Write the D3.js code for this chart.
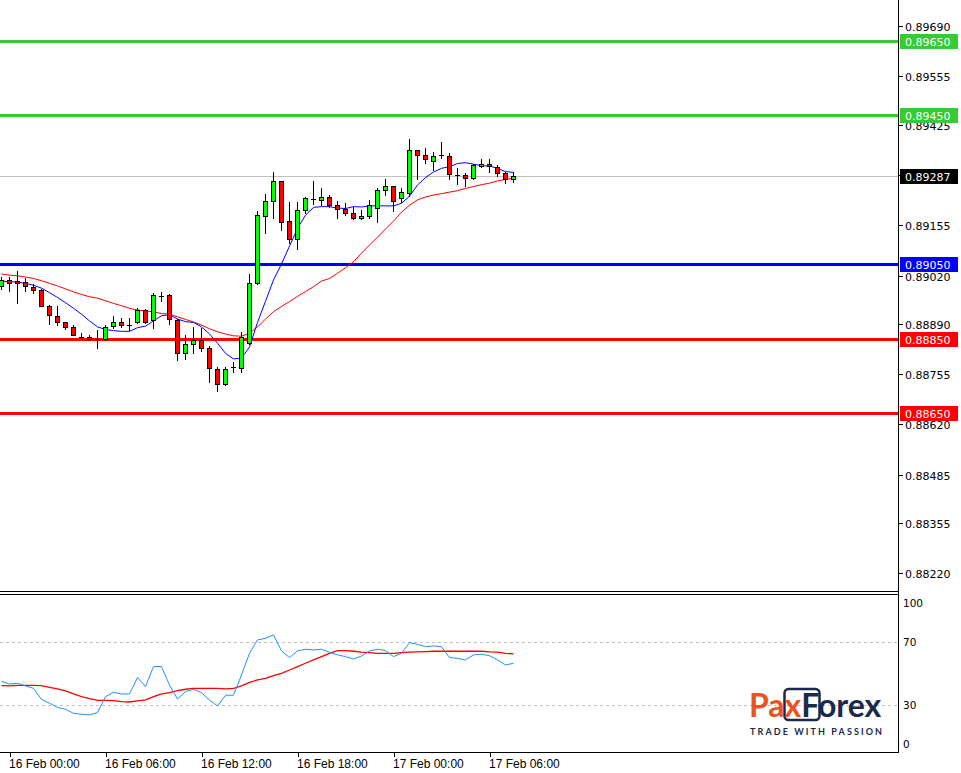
<!DOCTYPE html>
<html><head><meta charset="utf-8">
<script src="https://cdn.jsdelivr.net/npm/d3@7"></script>
<style>html,body{margin:0;padding:0;background:#fff;}svg{display:block}</style>
</head><body><svg id="c" width="961" height="773"></svg>
<script>
// ---------- DATA ----------
const startTime = "2021-02-15T23:30:00"; // first 30-minute candle
const openP = [0.88992,0.89009,0.89004,0.89002,0.88990,0.88982,0.88937,0.88912,0.88894,0.88883,0.88855,0.88856,0.88849,0.88849,0.88884,0.88896,0.88888,0.88895,0.88927,0.88900,0.88965,0.88968,0.88900,0.88812,0.88836,0.88847,0.88824,0.88770,0.88729,0.88774,0.88772,0.88840,0.89000,0.89181,0.89219,0.89274,0.89166,0.89117,0.89195,0.89225,0.89223,0.89230,0.89209,0.89198,0.89189,0.89174,0.89180,0.89200,0.89251,0.89260,0.89228,0.89242,0.89357,0.89345,0.89327,0.89344,0.89342,0.89290,0.89290,0.89281,0.89314,0.89319,0.89311,0.89294,0.89279];
const highP = [0.89015,0.89016,0.89032,0.89013,0.88997,0.88984,0.88941,0.88937,0.88896,0.88886,0.88866,0.88859,0.88874,0.88886,0.88911,0.88906,0.88906,0.88934,0.88931,0.88972,0.88977,0.88969,0.88904,0.88860,0.88882,0.88878,0.88831,0.88774,0.88774,0.88789,0.88868,0.89024,0.89192,0.89240,0.89298,0.89274,0.89218,0.89218,0.89231,0.89274,0.89254,0.89236,0.89220,0.89214,0.89205,0.89196,0.89223,0.89254,0.89278,0.89260,0.89254,0.89387,0.89357,0.89362,0.89352,0.89379,0.89348,0.89308,0.89294,0.89319,0.89332,0.89332,0.89317,0.89297,0.89297];
const lowP = [0.88985,0.88978,0.88945,0.88978,0.88972,0.88937,0.88891,0.88888,0.88875,0.88859,0.88849,0.88848,0.88824,0.88847,0.88880,0.88882,0.88874,0.88892,0.88892,0.88878,0.88951,0.88890,0.88793,0.88797,0.88813,0.88816,0.88735,0.88710,0.88727,0.88761,0.88762,0.88837,0.88997,0.89135,0.89175,0.89142,0.89108,0.89090,0.89188,0.89213,0.89209,0.89205,0.89174,0.89182,0.89172,0.89172,0.89174,0.89164,0.89236,0.89193,0.89218,0.89233,0.89278,0.89321,0.89303,0.89335,0.89278,0.89265,0.89261,0.89278,0.89312,0.89299,0.89287,0.89268,0.89270];
const closeP = [0.89008,0.89000,0.89001,0.88992,0.88982,0.88938,0.88914,0.88895,0.88882,0.88860,0.88854,0.88849,0.88848,0.88883,0.88896,0.88888,0.88887,0.88927,0.88896,0.88968,0.88963,0.88904,0.88812,0.88837,0.88847,0.88825,0.88772,0.88729,0.88770,0.88773,0.88855,0.89001,0.89182,0.89220,0.89274,0.89165,0.89117,0.89196,0.89227,0.89223,0.89230,0.89209,0.89198,0.89189,0.89174,0.89180,0.89209,0.89251,0.89260,0.89220,0.89243,0.89357,0.89345,0.89332,0.89342,0.89342,0.89292,0.89288,0.89281,0.89317,0.89319,0.89314,0.89296,0.89278,0.89287];
const maFast = [0.89004,0.89004,0.89002,0.88999,0.88994,0.88986,0.88974,0.88961,0.88947,0.88932,0.88916,0.88898,0.88882,0.88875,0.88872,0.88870,0.88870,0.88880,0.88884,0.88898,0.88912,0.88915,0.88903,0.88896,0.88894,0.88882,0.88863,0.88838,0.88811,0.88796,0.88798,0.88828,0.88894,0.88951,0.89008,0.89051,0.89099,0.89146,0.89182,0.89203,0.89205,0.89205,0.89201,0.89200,0.89205,0.89204,0.89207,0.89207,0.89207,0.89207,0.89214,0.89233,0.89263,0.89283,0.89298,0.89308,0.89312,0.89321,0.89323,0.89319,0.89315,0.89314,0.89308,0.89299,0.89297];
const maSlow = [0.89024,0.89021,0.89019,0.89016,0.89012,0.89006,0.88999,0.88992,0.88984,0.88976,0.88969,0.88963,0.88959,0.88952,0.88945,0.88939,0.88932,0.88927,0.88925,0.88922,0.88918,0.88916,0.88909,0.88902,0.88895,0.88887,0.88877,0.88869,0.88863,0.88858,0.88857,0.88865,0.88882,0.88903,0.88923,0.88937,0.88950,0.88964,0.88977,0.88990,0.89005,0.89012,0.89026,0.89041,0.89057,0.89080,0.89102,0.89123,0.89145,0.89166,0.89190,0.89209,0.89223,0.89231,0.89236,0.89240,0.89244,0.89248,0.89254,0.89259,0.89264,0.89268,0.89274,0.89278,0.89281];
const oscMain = [45.2,43.5,44,42.3,40.8,33.8,31.3,28.7,27.5,24.9,24.3,23.9,25.4,35.5,38.3,37.2,37.2,47.6,41.9,54.6,54.6,42.9,34,38.7,40.2,38,33.4,29.6,36.4,36.4,49.3,63,71.5,72.5,74.7,64.5,60.3,64.5,65.6,65.1,65.6,63.7,62,60.9,59.4,61.3,64.5,65.6,64.7,60.9,63,69.8,68.7,67.2,67.7,67.2,60.3,59.8,58.8,62,62.4,61.5,58.8,55.6,56.7];
const oscSignal = [42.5,42.3,42.7,42.7,42.7,42.5,41.4,40.4,39.1,37.2,35.5,34.2,33.2,33.2,33,32.3,32.1,32.8,33.4,35.5,37.2,38,39.3,40.2,40.8,40.8,40.8,40.8,40.4,40.8,42.3,44.6,46.1,47.1,48.8,50.3,52.4,54.6,56.7,58.8,60.9,63,64.7,64.7,64.3,63.7,63.4,63,63,63,63.4,63.7,63.9,64.1,64.3,64.3,64.3,64.3,64.3,64.3,64.3,63.9,63.7,63,62.6];
const priceTicks = [0.89690,0.89555,0.89425,0.89290,0.89155,0.89020,0.88890,0.88755,0.88620,0.88485,0.88355,0.88220];
const levelValues = [0.89650,0.89450,0.89050,0.88850,0.88650];
const levelKinds = ["resistance","resistance","pivot","support","support"];
const lastPrice = 0.89287;
const oscTicks = [100,70,30,0];
const oscLevels = [70,30];
const timeTicks = ["2021-02-16T00:00:00","2021-02-16T06:00:00","2021-02-16T12:00:00","2021-02-16T18:00:00","2021-02-17T00:00:00","2021-02-17T06:00:00"];

// ---------- SETUP ----------
const svg = d3.select("#c");
const n = openP.length;
const t0 = new Date(startTime);
const times = d3.range(n).map(i => new Date(t0.getTime() + i * 30 * 60000));
const axisX = 898.5;
const mainBottom = 591.5, oscTop = 594.5, oscBottom = 752.5;

const x = d3.scaleTime().domain([times[0], times[n-1]]).range([1.5, 513.5]);
const y = d3.scaleLinear().domain([0.881726, 0.89760]).range([591, 0]);
const y2 = d3.scaleLinear().domain([0, 100]).range([752.6, 595]);
const kindColor = {resistance:"#32CD32", pivot:"#0000FF", support:"#FF0000"};
const priceFmt = d3.format(".5f");
const tFmt = d3.timeFormat("%d %b %H:%M");

svg.append("rect").attr("width",961).attr("height",773).attr("fill","#fff");

svg.append("clipPath").attr("id","mainClip").append("rect").attr("x",0).attr("y",0).attr("width",axisX).attr("height",mainBottom);
svg.append("clipPath").attr("id","oscClip").append("rect").attr("x",0).attr("y",oscTop).attr("width",axisX).attr("height",oscBottom-oscTop);
const main = svg.append("g").attr("clip-path","url(#mainClip)");

// current price line
main.append("line").attr("x1",0).attr("x2",axisX).attr("y1",Math.round(y(lastPrice))+0.5).attr("y2",Math.round(y(lastPrice))+0.5)
  .attr("stroke","#C0C0C0").attr("stroke-width",1).attr("shape-rendering","crispEdges");

// level lines
levelValues.forEach((v,i) => {
  const yy = Math.round(y(v)) + 0.5;
  main.append("line").attr("x1",0).attr("x2",axisX).attr("y1",yy).attr("y2",yy)
    .attr("stroke",kindColor[levelKinds[i]]).attr("stroke-width",3).attr("shape-rendering","crispEdges");
});

// moving averages
const lineGen = (arr, sc) => d3.line().x((d,i)=>x(times[i])).y(d=>sc(d))(arr);
main.append("path").attr("d",lineGen(maSlow,y)).attr("fill","none").attr("stroke","#FF0000").attr("stroke-width",1);
main.append("path").attr("d",lineGen(maFast,y)).attr("fill","none").attr("stroke","#0000FF").attr("stroke-width",1);

// candles
const cg = main.append("g");
for (let i=0;i<n;i++){
  const cx = Math.round(x(times[i])-0.5)+0.5;
  const yh = Math.round(y(highP[i])), yl = Math.round(y(lowP[i]));
  cg.append("line").attr("x1",cx).attr("x2",cx).attr("y1",yh).attr("y2",yl+1)
    .attr("stroke","#000").attr("stroke-width",1).attr("shape-rendering","crispEdges");
  const yo = y(openP[i]), yc = y(closeP[i]);
  const top = Math.round(Math.min(yo,yc)), bot = Math.round(Math.max(yo,yc));
  if (bot - top < 2) {
    cg.append("line").attr("x1",cx-2.5).attr("x2",cx+2.5).attr("y1",top+0.5).attr("y2",top+0.5)
      .attr("stroke","#000").attr("stroke-width",1).attr("shape-rendering","crispEdges");
  } else {
    cg.append("rect").attr("x",cx-2).attr("y",top+0.5).attr("width",4).attr("height",bot-top)
      .attr("fill", closeP[i] >= openP[i] ? "#00FF00" : "#FF0000")
      .attr("stroke","#000").attr("stroke-width",1).attr("shape-rendering","crispEdges");
  }
}

// ---------- OSCILLATOR PANEL ----------
const osc = svg.append("g").attr("clip-path","url(#oscClip)");
oscLevels.forEach(v=>{
  const yy = Math.round(y2(v))+0.5;
  osc.append("line").attr("x1",0).attr("x2",axisX).attr("y1",yy).attr("y2",yy)
    .attr("stroke","#C0C0C0").attr("stroke-dasharray","3,3").attr("shape-rendering","crispEdges");
});
osc.append("path").attr("d",lineGen(oscSignal,y2)).attr("fill","none").attr("stroke","#FF0000").attr("stroke-width",1.3);
osc.append("path").attr("d",lineGen(oscMain,y2)).attr("fill","none").attr("stroke","#1E90FF").attr("stroke-width",1);

// ---------- FRAMES ----------
const frame = svg.append("g").attr("stroke","#000").attr("stroke-width",1).attr("shape-rendering","crispEdges");
frame.append("line").attr("x1",axisX).attr("x2",axisX).attr("y1",0).attr("y2",oscBottom);
frame.append("line").attr("x1",0).attr("x2",axisX).attr("y1",mainBottom).attr("y2",mainBottom);
frame.append("line").attr("x1",0).attr("x2",axisX).attr("y1",oscTop).attr("y2",oscTop);
frame.append("line").attr("x1",0).attr("x2",axisX).attr("y1",oscBottom).attr("y2",oscBottom);

// ---------- PRICE AXIS ----------
const pa = svg.append("g");
priceTicks.forEach(v=>{
  const yy = Math.round(y(v))+0.5;
  pa.append("line").attr("x1",axisX).attr("x2",axisX+4).attr("y1",yy).attr("y2",yy).attr("stroke","#000").attr("shape-rendering","crispEdges");
  pa.append("text").attr("x",905).attr("y",yy+4).text(priceFmt(v))
    .attr("font-family","DejaVu Sans").attr("font-size",11).attr("fill","#000");
});
function priceBox(v,color){
  const yy = Math.round(y(v));
  pa.append("rect").attr("x",900).attr("y",yy-7).attr("width",58).attr("height",15).attr("fill",color);
  pa.append("text").attr("x",905).attr("y",yy+4.5).text(priceFmt(v))
    .attr("font-family","DejaVu Sans").attr("font-size",11).attr("fill","#fff");
}
levelValues.forEach((v,i)=>priceBox(v,kindColor[levelKinds[i]]));
priceBox(lastPrice,"#000");

// ---------- OSC AXIS ----------
oscTicks.forEach(v=>{
  const yy = Math.min(Math.max(y2(v),603),744);
  pa.append("text").attr("x",903).attr("y",yy+4).text(v)
    .attr("font-family","DejaVu Sans").attr("font-size",10.5).attr("fill","#000");
});

// ---------- TIME AXIS ----------
timeTicks.forEach(s=>{
  const t = new Date(s);
  const tx = Math.round(x(t))+0.5;
  pa.append("line").attr("x1",tx).attr("x2",tx).attr("y1",oscBottom).attr("y2",oscBottom+4).attr("stroke","#000").attr("shape-rendering","crispEdges");
  pa.append("text").attr("x",tx-1.5).attr("y",768).text(tFmt(t))
    .attr("font-family","Liberation Sans").attr("font-size",12).attr("fill","#000");
});

// ---------- LOGO ----------
const logo = svg.append("g");
logo.append("rect").attr("x",784.5).attr("y",689).attr("width",35).attr("height",31).attr("rx",4)
  .attr("fill","none").attr("stroke","#1B2A4A").attr("stroke-width",2.5);
const lt = logo.append("text").attr("x",749).attr("y",717).attr("font-family","Lato").attr("font-weight",700).attr("font-size",32);
lt.append("tspan").attr("fill","#E8541E").text("Pax");
lt.append("tspan").attr("fill","#1B2A4A").text("Forex");
logo.append("text").attr("x",750).attr("y",735).attr("font-family","Lato").attr("font-weight",700).attr("font-size",9)
  .attr("letter-spacing",2.1).attr("fill","#1B2A4A").text("TRADE WITH PASSION");
</script>
</body></html>
